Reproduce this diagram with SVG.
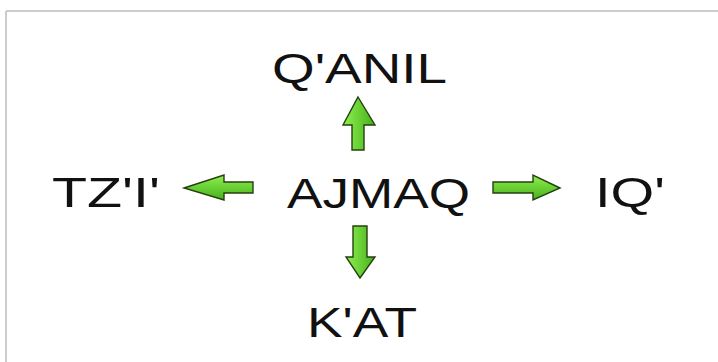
<svg xmlns="http://www.w3.org/2000/svg" width="718" height="362" viewBox="0 0 718 362">
  <defs>
    <linearGradient id="gv" x1="0" y1="0" x2="1" y2="0">
      <stop offset="0" stop-color="#8ef04f"/>
      <stop offset="1" stop-color="#46b01c"/>
    </linearGradient>
    <linearGradient id="gh" x1="0" y1="0" x2="0" y2="1">
      <stop offset="0" stop-color="#8ef04f"/>
      <stop offset="1" stop-color="#46b01c"/>
    </linearGradient>
  </defs>
  <style>
    .lbl { font-family: "Liberation Sans", Arial, sans-serif; font-size: 42px; fill: #111; }
    .av { fill: url(#gv); stroke: #24400f; stroke-width: 1.4; stroke-linejoin: miter; }
    .ah { fill: url(#gh); stroke: #24400f; stroke-width: 1.4; stroke-linejoin: miter; }
  </style>
  <rect width="718" height="362" fill="#ffffff"/>
  <g id="frame">
    <line x1="6" y1="11" x2="718" y2="11" stroke="#cccccc" stroke-width="2"/>
    <line x1="6" y1="11" x2="6" y2="362" stroke="#cccccc" stroke-width="2"/>
  </g>
  <g id="node-ajmaq"><text class="lbl" x="287" y="208" textLength="183" lengthAdjust="spacingAndGlyphs">AJMAQ</text></g>
  <g id="node-qanil"><text class="lbl" x="272" y="83" textLength="175" lengthAdjust="spacingAndGlyphs">Q'ANIL</text></g>
  <g id="node-tzi"><text class="lbl" x="52" y="207" textLength="108" lengthAdjust="spacingAndGlyphs">TZ'I'</text></g>
  <g id="node-iq"><text class="lbl" x="595" y="207" textLength="70" lengthAdjust="spacingAndGlyphs">IQ'</text></g>
  <g id="node-kat"><text class="lbl" x="307" y="337" textLength="110" lengthAdjust="spacingAndGlyphs">K'AT</text></g>
  <g id="connectors">
    <path class="av" d="M358 97 L375 125 L364 125 L364 150 L352 150 L352 125 L343 125 Z"/>
    <path class="av" d="M360 278 L375 257 L367 257 L367 226 L353 226 L353 257 L346 257 Z"/>
    <path class="ah" d="M184 188 L224 175 L224 182 L253 182 L253 193 L224 193 L224 200 Z"/>
    <path class="ah" d="M560 188 L533 175 L533 182 L493 182 L493 193 L533 193 L533 200 Z"/>
  </g>
</svg>
